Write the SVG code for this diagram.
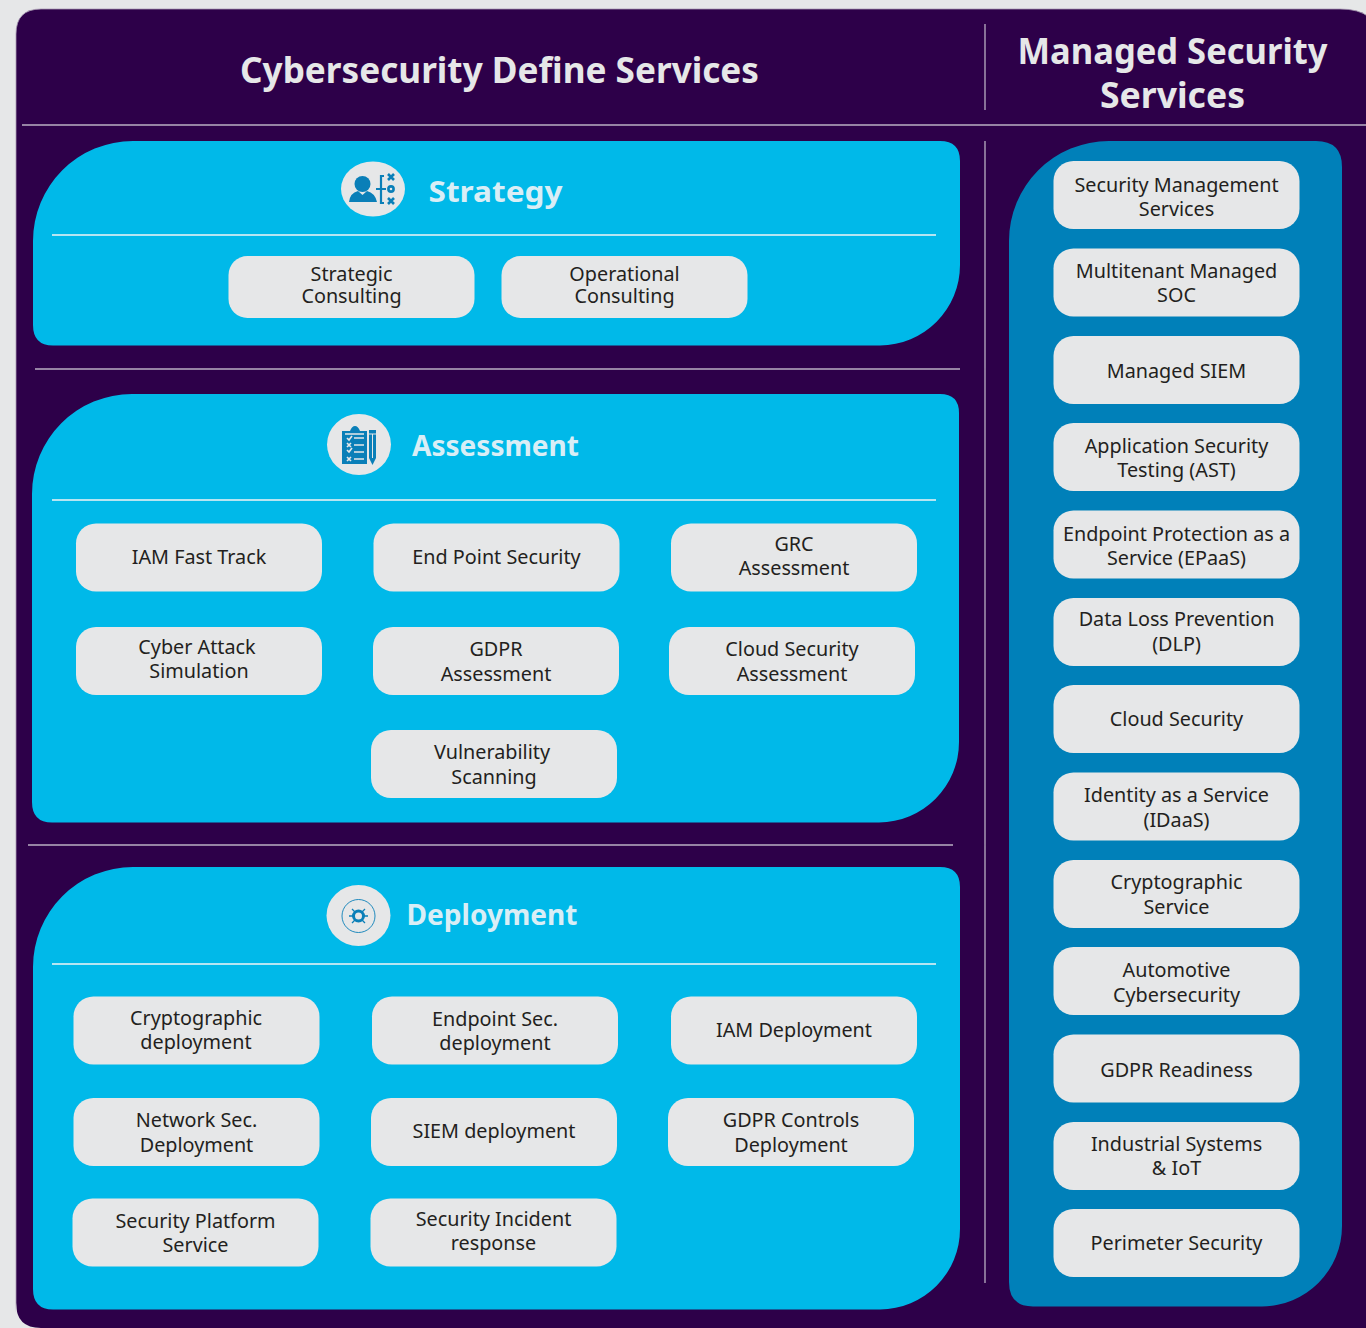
<svg xmlns="http://www.w3.org/2000/svg" width="1366" height="1328" viewBox="0 0 1366 1328">
<style>
text{font-family:"Noto Sans","Open Sans","Liberation Sans",sans-serif;text-anchor:middle}
.t{font-size:19.800px;fill:#231f20}
.h{font-size:35px;font-weight:700;fill:#e6e7e8}
.c{font-size:29px;font-weight:700;fill:#d9eef6}
.p{fill:#e6e7e8}
.card{fill:#00b9e9}
.rule{stroke:#b9aec2;stroke-width:1.3;fill:none}
.crule{stroke:#f2f4f5;stroke-width:1.500;fill:none}
.ic{fill:#0a7fb8}
.il{stroke:#0a7fb8;fill:none}
</style>
<rect width="1366" height="1328" fill="#e6e7e8"/>
<path d="M41 9H1340Q1378 9 1378 40V1340H41Q16 1340 16 1303V34Q16 9 41 9Z" fill="#2d0049" stroke="#a89bb2" stroke-width="0.8"/>
<path d="M16 1303Q16 1328 41 1328H16Z" fill="#e6e7e8"/>
<g id="lines" class="rule">
<path d="M22 125H1366M985 24V110M985 141V1283M35 369H960M28 845H953"/>
</g>
<g id="titles">
<text class="h" x="499.500" y="83" textLength="519" lengthAdjust="spacingAndGlyphs">Cybersecurity Define Services</text>
<text class="h" x="1172.500" y="64" textLength="310" lengthAdjust="spacingAndGlyphs">Managed Security</text>
<text class="h" x="1172.500" y="108" textLength="145" lengthAdjust="spacingAndGlyphs">Services</text>
</g>
<g id="strategy">
<path class="card" d="M133 141H940Q960 141 960 161V265A80.500 80.500 0 0 1 880 345.500H53Q33 345.500 33 325V241A100 100 0 0 1 133 141Z"/>
<path class="crule" d="M52 235H936"/>
<ellipse class="p" cx="373" cy="189" rx="32" ry="27.500"/>
<g class="ic"><circle cx="362.500" cy="184" r="8"/><path d="M349 202Q350 193 358 191L362.500 195L367 191Q375 193 377 202Z"/></g>
<path class="il" stroke-width="2.200" d="M376 189H386M384 176H381V203H384"/>
<g class="il" stroke-width="2.600"><path d="M388 174L394 180M394 174L388 180M388 198L394 204M394 198L388 204"/><circle cx="391" cy="189" r="2.600"/></g>
<text class="c" x="495.500" y="202" textLength="134" lengthAdjust="spacingAndGlyphs">Strategy</text>
</g>
<g id="assessment">
<path class="card" d="M132 394H940Q959 394 959 413V742A80.500 80.500 0 0 1 879 822.500H52Q32 822.500 32 802V494A100 100 0 0 1 132 394Z"/>
<path class="crule" d="M52 500H936"/>
<ellipse class="p" cx="359" cy="444.500" rx="32" ry="30.500"/>
<path class="ic" d="M342 431H350Q352 426 355 426Q358 426 360 431H367V464H342Z"/>
<path stroke="#e6e7e8" stroke-width="1.600" fill="none" d="M345 434H364M354 438H364M354 445H364M354 452H364M354 459H364M347 438L349 440L352 436M347 443L351 447M351 443L347 447M347 450L349 452L352 448M347 457L351 461M351 457L347 461"/>
<path class="ic" d="M369 430H376V458L372.500 465L369 458Z"/>
<path stroke="#e6e7e8" stroke-width="1" d="M372.500 434V458M369 434H376"/>
<text class="c" x="495.500" y="456" textLength="167" lengthAdjust="spacingAndGlyphs">Assessment</text>
</g>
<g id="deployment">
<path class="card" d="M133 867H940Q960 867 960 887V1229A80.500 80.500 0 0 1 880 1309.500H53Q33 1309.500 33 1289V967A100 100 0 0 1 133 867Z"/>
<path class="crule" d="M52 964H936"/>
<ellipse class="p" cx="358.500" cy="915.500" rx="32" ry="30.500"/>
<circle class="il" cx="358.500" cy="916" r="16.500" stroke-width="0.900"/>
<circle class="il" cx="358.500" cy="916" r="5" stroke-width="3"/>
<path class="il" stroke-width="1.300" d="M349 916H353M364 916H368M352 909L355 912M365 909L362 912M352 923L355 920M365 923L362 920"/>
<text class="c" x="492" y="925" textLength="171" lengthAdjust="spacingAndGlyphs">Deployment</text>
</g>
<g id="managed-panel">
<path d="M1109 141H1316Q1342 141 1342 167V1226A80.500 80.500 0 0 1 1262 1306.500H1033Q1009 1306.500 1009 1282V241A100 100 0 0 1 1109 141Z" fill="#0080b9"/>
</g>
<g id="connectors"/>
<g id="n-strategic"><rect class="p" x="228.500" y="256" width="246" height="62" rx="19"/><text class="t"><tspan x="351.500" y="281">Strategic</tspan><tspan x="351.500" y="303">Consulting</tspan></text></g>
<g id="n-operational"><rect class="p" x="501.500" y="256" width="246" height="62" rx="19"/><text class="t"><tspan x="624.500" y="281">Operational</tspan><tspan x="624.500" y="303">Consulting</tspan></text></g>
<g id="n-iam"><rect class="p" x="76" y="523.500" width="246" height="68" rx="20"/><text class="t" x="199" y="564">IAM Fast Track</text></g>
<g id="n-endpoint"><rect class="p" x="373.500" y="523.500" width="246" height="68" rx="20"/><text class="t" x="496.500" y="564">End Point Security</text></g>
<g id="n-grc"><rect class="p" x="671" y="523.500" width="246" height="68" rx="20"/><text class="t"><tspan x="794" y="551">GRC</tspan><tspan x="794" y="575">Assessment</tspan></text></g>
<g id="n-cyber"><rect class="p" x="76" y="627" width="246" height="68" rx="20"/><text class="t"><tspan x="197" y="654">Cyber Attack</tspan><tspan x="199" y="678">Simulation</tspan></text></g>
<g id="n-gdpr"><rect class="p" x="373" y="627" width="246" height="68" rx="20"/><text class="t"><tspan x="496" y="656">GDPR</tspan><tspan x="496" y="681">Assessment</tspan></text></g>
<g id="n-cloud"><rect class="p" x="669" y="627" width="246" height="68" rx="20"/><text class="t"><tspan x="792" y="656">Cloud Security</tspan><tspan x="792" y="681">Assessment</tspan></text></g>
<g id="n-vuln"><rect class="p" x="371" y="730" width="246" height="68" rx="20"/><text class="t"><tspan x="492" y="759">Vulnerability</tspan><tspan x="494" y="784">Scanning</tspan></text></g>
<g id="n-crypto"><rect class="p" x="73.500" y="996.500" width="246" height="68" rx="20"/><text class="t"><tspan x="196" y="1025">Cryptographic</tspan><tspan x="196" y="1049">deployment</tspan></text></g>
<g id="n-endsec"><rect class="p" x="372" y="996.500" width="246" height="68" rx="20"/><text class="t"><tspan x="495" y="1026">Endpoint Sec.</tspan><tspan x="495" y="1050">deployment</tspan></text></g>
<g id="n-iamd"><rect class="p" x="671" y="996.500" width="246" height="68" rx="20"/><text class="t" x="794" y="1037">IAM Deployment</text></g>
<g id="n-netsec"><rect class="p" x="73.500" y="1098" width="246" height="68" rx="20"/><text class="t"><tspan x="196.500" y="1127">Network Sec.</tspan><tspan x="196.500" y="1152">Deployment</tspan></text></g>
<g id="n-siem"><rect class="p" x="371" y="1098" width="246" height="68" rx="20"/><text class="t" x="494" y="1138">SIEM deployment</text></g>
<g id="n-gdprc"><rect class="p" x="668" y="1098" width="246" height="68" rx="20"/><text class="t"><tspan x="791" y="1127">GDPR Controls</tspan><tspan x="791" y="1152">Deployment</tspan></text></g>
<g id="n-platform"><rect class="p" x="72.500" y="1198.500" width="246" height="68" rx="20"/><text class="t"><tspan x="195.500" y="1228">Security Platform</tspan><tspan x="195.500" y="1252">Service</tspan></text></g>
<g id="n-incident"><rect class="p" x="370.500" y="1198.500" width="246" height="68" rx="20"/><text class="t"><tspan x="493.500" y="1226">Security Incident</tspan><tspan x="493.500" y="1250">response</tspan></text></g>
<g id="m-1"><rect class="p" x="1053.500" y="161" width="246" height="68" rx="20"/><text class="t"><tspan x="1176.500" y="192">Security Management</tspan><tspan x="1176.500" y="216">Services</tspan></text></g>
<g id="m-2"><rect class="p" x="1053.500" y="248.500" width="246" height="68" rx="20"/><text class="t"><tspan x="1176.500" y="278">Multitenant Managed</tspan><tspan x="1176.500" y="302">SOC</tspan></text></g>
<g id="m-3"><rect class="p" x="1053.500" y="336" width="246" height="68" rx="20"/><text class="t" x="1176.500" y="378">Managed SIEM</text></g>
<g id="m-4"><rect class="p" x="1053.500" y="423" width="246" height="68" rx="20"/><text class="t"><tspan x="1176.500" y="453">Application Security</tspan><tspan x="1176.500" y="477">Testing (AST)</tspan></text></g>
<g id="m-5"><rect class="p" x="1053.500" y="510.500" width="246" height="68" rx="20"/><text class="t"><tspan x="1176.500" y="541">Endpoint Protection as a</tspan><tspan x="1176.500" y="565">Service (EPaaS)</tspan></text></g>
<g id="m-6"><rect class="p" x="1053.500" y="598" width="246" height="68" rx="20"/><text class="t"><tspan x="1176.500" y="626">Data Loss Prevention</tspan><tspan x="1176.500" y="651">(DLP)</tspan></text></g>
<g id="m-7"><rect class="p" x="1053.500" y="685" width="246" height="68" rx="20"/><text class="t" x="1176.500" y="726">Cloud Security</text></g>
<g id="m-8"><rect class="p" x="1053.500" y="772.500" width="246" height="68" rx="20"/><text class="t"><tspan x="1176.500" y="802">Identity as a Service</tspan><tspan x="1176.500" y="827">(IDaaS)</tspan></text></g>
<g id="m-9"><rect class="p" x="1053.500" y="860" width="246" height="68" rx="20"/><text class="t"><tspan x="1176.500" y="889">Cryptographic</tspan><tspan x="1176.500" y="914">Service</tspan></text></g>
<g id="m-10"><rect class="p" x="1053.500" y="947" width="246" height="68" rx="20"/><text class="t"><tspan x="1176.500" y="977">Automotive</tspan><tspan x="1176.500" y="1002">Cybersecurity</tspan></text></g>
<g id="m-11"><rect class="p" x="1053.500" y="1034.500" width="246" height="68" rx="20"/><text class="t" x="1176.500" y="1077">GDPR Readiness</text></g>
<g id="m-12"><rect class="p" x="1053.500" y="1122" width="246" height="68" rx="20"/><text class="t"><tspan x="1176.500" y="1151">Industrial Systems</tspan><tspan x="1176.500" y="1175">&amp; IoT</tspan></text></g>
<g id="m-13"><rect class="p" x="1053.500" y="1209" width="246" height="68" rx="20"/><text class="t" x="1176.500" y="1250">Perimeter Security</text></g>
</svg>
